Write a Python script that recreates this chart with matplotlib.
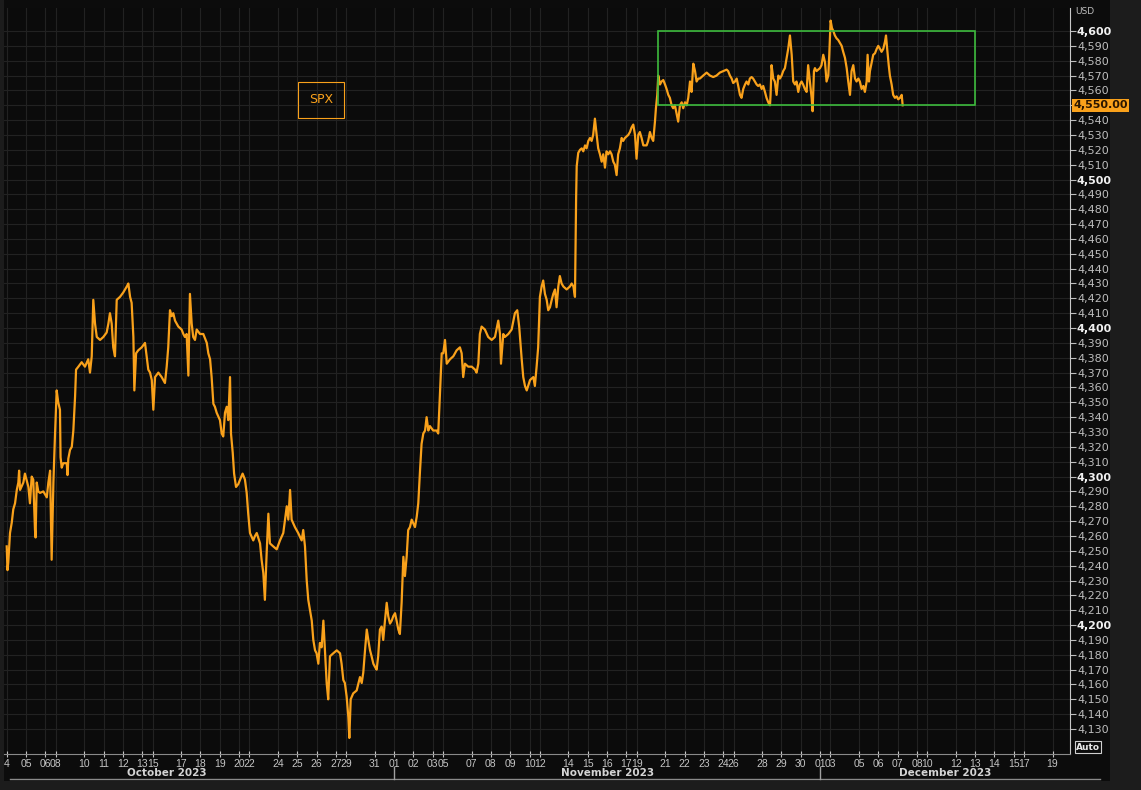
import numpy as np
import pandas as pd
import matplotlib
matplotlib.use("Agg")
import matplotlib.pyplot as plt
from matplotlib.patches import Rectangle
from matplotlib.lines import Line2D
from matplotlib.transforms import blended_transform_factory

plt.rcParams['font.family'] = ['DejaVu Sans']

# session time in trading days since 2023-10-04 (weekends removed)
t_days = [
    0.00, 0.04, 0.08, 0.17, 0.26, 0.34, 0.43, 0.52, 0.60, 0.64, 0.69, 0.86, 0.94, 1.12, 1.20, 1.29,
    1.37, 1.46, 1.49, 1.55, 1.63, 1.72, 1.89, 2.07, 2.15, 2.24, 2.32, 2.41, 2.49, 2.58, 2.66, 2.75,
    2.78, 2.84, 2.92, 3.10, 3.14, 3.18, 3.27, 3.36, 3.44, 3.53, 3.58, 3.70, 3.87, 4.04, 4.21, 4.30,
    4.39, 4.47, 4.56, 4.65, 4.82, 4.99, 5.16, 5.25, 5.33, 5.42, 5.50, 5.59, 5.68, 5.85, 6.02, 6.20,
    6.28, 6.37, 6.45, 6.54, 6.59, 6.68, 6.79, 6.97, 7.14, 7.31, 7.40,
    7.49, 7.57, 7.66, 7.83, 8.00, 8.17, 8.26, 8.34, 8.43, 8.52, 8.60, 8.69, 8.86, 9.03, 9.12, 9.20,
    9.29, 9.38, 9.46, 9.55, 9.63, 9.72, 9.81, 9.98, 10.15, 10.33, 10.41, 10.50, 10.58, 10.67, 10.75,
    10.84, 11.01, 11.10, 11.18, 11.27, 11.36, 11.44, 11.53, 11.58, 11.67, 11.74, 11.84, 11.96, 12.05,
    12.18, 12.30, 12.39, 12.47, 12.56, 12.73, 12.82, 12.91, 13.08, 13.16, 13.25, 13.33, 13.42, 13.51,
    13.59, 13.76, 13.94, 14.11, 14.28, 14.46, 14.54, 14.63, 14.71, 14.88, 15.05, 15.23, 15.31, 15.40,
    15.49, 15.57,
    15.66, 15.75, 15.83, 15.92, 16.00, 16.09, 16.17, 16.26, 16.35, 16.43, 16.52, 16.60, 16.69, 16.86,
    17.04, 17.21, 17.29, 17.38, 17.46, 17.55, 17.64, 17.69, 17.76, 17.89, 18.07, 18.24, 18.33, 18.41,
    18.50, 18.59, 18.67, 18.76, 18.84, 18.93, 19.01, 19.10, 19.18, 19.27, 19.36, 19.44, 19.53, 19.62,
    19.70, 19.79, 19.88, 19.96, 20.05, 20.13, 20.22, 20.30, 20.39, 20.48, 20.56, 20.65, 20.73, 20.82,
    20.91, 21.08, 21.17, 21.25, 21.34, 21.42, 21.51, 21.60, 21.68, 21.77,
    21.85, 22.02, 22.20, 22.28, 22.37, 22.46, 22.54, 22.63, 22.72, 22.89, 23.06, 23.23, 23.40, 23.49,
    23.57, 23.66, 23.83, 24.01, 24.18, 24.26, 24.35, 24.43, 24.52, 24.69, 24.86, 25.04, 25.21, 25.38,
    25.47, 25.52, 25.64, 25.72, 25.90, 26.07, 26.24, 26.36, 26.46, 26.59, 26.67, 26.76, 26.85, 27.02,
    27.19, 27.27, 27.36, 27.44, 27.53, 27.62, 27.70, 27.79, 27.88, 27.96, 28.05, 28.14, 28.22, 28.31,
    28.39, 28.48, 28.56, 28.65, 28.74, 28.91, 29.08, 29.17, 29.26, 29.34, 29.40, 29.43, 29.51, 29.60,
    29.69, 29.77, 29.86, 29.94, 30.03, 30.12, 30.20, 30.28, 30.37, 30.46, 30.54, 30.63, 30.72, 30.80,
    30.89, 30.97, 31.06, 31.15, 31.23, 31.32, 31.40, 31.49, 31.57, 31.66, 31.75, 31.83, 31.92, 32.09,
    32.18, 32.26, 32.35, 32.44, 32.52, 32.61, 32.69, 32.78, 32.87, 33.04, 33.12, 33.21, 33.30, 33.38,
    33.47, 33.52, 33.59, 33.64, 33.73, 33.81, 33.90, 33.99, 34.07, 34.16, 34.24, 34.33, 34.41, 34.50,
    34.59, 34.67, 34.76, 34.85, 34.93, 35.02, 35.11, 35.19, 35.28, 35.36, 35.45, 35.54, 35.62, 35.71,
    35.79, 35.96, 36.14, 36.31, 36.48, 36.65, 36.82, 37.00, 37.17, 37.25, 37.34, 37.43, 37.51, 37.60,
    37.69, 37.77, 37.86, 37.94, 38.03, 38.12, 38.20, 38.29, 38.37, 38.46, 38.54, 38.63, 38.72, 38.80,
    38.89, 38.98, 39.06, 39.15, 39.23, 39.32, 39.41, 39.44, 39.49, 39.58, 39.66, 39.75, 39.84, 39.92,
    40.01, 40.09, 40.18, 40.27, 40.35, 40.44, 40.53, 40.61, 40.70, 40.78, 40.87, 40.95, 41.04, 41.12,
    41.21, 41.30, 41.38, 41.47, 41.56, 41.61, 41.68, 41.73, 41.81, 41.90, 41.99, 42.07, 42.16, 42.25,
    42.33, 42.42, 42.47, 42.54, 42.61, 42.68, 42.76, 42.85, 42.93, 43.02, 43.11, 43.19, 43.28, 43.37,
    43.45, 43.54, 43.62, 43.71, 43.80, 43.88, 43.97, 44.05, 44.14, 44.23, 44.31, 44.40, 44.45, 44.52,
    44.57, 44.66, 44.74, 44.83, 44.92, 45.00, 45.09, 45.17, 45.26, 45.35, 45.40, 45.46, 45.54, 45.60,
    45.69, 45.77, 45.86, 45.95, 46.03, 46.12, 46.21, 46.26,
]

spx = [
    4253, 4237, 4242, 4262, 4269, 4278, 4282, 4291, 4296, 4304, 4291, 4296, 4302, 4293, 4282, 4300,
    4298, 4264, 4259, 4296, 4290, 4289, 4290, 4286, 4296, 4304, 4244, 4296, 4327, 4358, 4350, 4345,
    4313, 4306, 4309, 4309, 4301, 4312, 4318, 4320, 4331, 4354, 4372, 4374, 4377, 4374, 4379, 4370,
    4381, 4419, 4403, 4394, 4392, 4394, 4397, 4403, 4410, 4403, 4387, 4381, 4419, 4421, 4424, 4428,
    4430, 4421, 4417, 4394, 4358, 4383, 4385, 4387, 4390, 4372, 4370,
    4365, 4345, 4367, 4370, 4367, 4363, 4374, 4387, 4412, 4408, 4410, 4405, 4401, 4399, 4396, 4394,
    4396, 4368, 4423, 4403, 4394, 4392, 4399, 4396, 4396, 4390, 4383, 4379, 4367, 4349, 4347,
    4343, 4338, 4329, 4327, 4343, 4347, 4338, 4367, 4329, 4316, 4302, 4293, 4295, 4298,
    4302, 4298, 4289, 4275, 4262, 4257, 4260, 4262, 4255, 4244, 4235, 4217, 4248, 4275,
    4255, 4253, 4251, 4257, 4262, 4280, 4271, 4291, 4271, 4266, 4262, 4257, 4264, 4253,
    4230, 4217,
    4210, 4203, 4190, 4183, 4181, 4174, 4188, 4185, 4203, 4183, 4161, 4150, 4179, 4181,
    4183, 4181, 4174, 4163, 4161, 4152, 4138, 4124, 4150, 4154, 4156, 4165, 4161, 4168,
    4183, 4197, 4190, 4183, 4179, 4174, 4172, 4170, 4179, 4197, 4199, 4190, 4203, 4215,
    4206, 4201, 4203, 4206, 4208, 4203, 4197, 4194, 4215, 4246, 4233, 4246, 4264, 4266,
    4271, 4266, 4273, 4282, 4304, 4322, 4329, 4331, 4340, 4331,
    4334, 4331, 4331, 4329, 4356, 4383, 4383, 4392, 4376, 4379, 4381, 4385, 4387, 4383,
    4367, 4376, 4374, 4374, 4372, 4370, 4376, 4396, 4401, 4399, 4394, 4392, 4394, 4405,
    4396, 4376, 4396, 4394, 4396, 4399, 4410, 4412, 4401, 4379, 4367, 4361, 4358, 4365,
    4367, 4361, 4374, 4387, 4421, 4428, 4432, 4423, 4419, 4412, 4414, 4419, 4423, 4426,
    4414, 4428, 4435, 4430, 4428, 4426, 4428, 4430, 4428, 4421, 4488, 4509, 4518, 4520,
    4521, 4519, 4523, 4521, 4526, 4528, 4526, 4530, 4541, 4530, 4521, 4517, 4512, 4517,
    4508, 4519, 4517, 4519, 4517, 4512, 4510, 4503, 4517, 4521, 4528, 4526, 4528, 4530,
    4532, 4535, 4537, 4530, 4514, 4530, 4532, 4528, 4523, 4523, 4526, 4532, 4528, 4526,
    4539, 4548, 4557, 4570, 4564, 4566, 4567, 4564, 4561, 4557, 4555, 4550, 4548, 4550,
    4544, 4539, 4550, 4552, 4548, 4552, 4550, 4555, 4566, 4559, 4578, 4573, 4566, 4568,
    4568, 4570, 4572, 4570, 4569, 4570, 4572, 4573, 4574, 4573, 4570, 4568, 4565, 4566,
    4568, 4563, 4557, 4555, 4561, 4564, 4566, 4564, 4568, 4569, 4568, 4566, 4564, 4563,
    4564, 4561, 4563, 4559, 4555, 4552, 4550, 4557, 4577, 4568, 4566, 4557, 4570, 4568,
    4570, 4573, 4575, 4582, 4588, 4597, 4584, 4566, 4564, 4566, 4559, 4564, 4566, 4564,
    4561, 4559, 4577, 4566, 4555, 4546, 4573, 4575, 4573, 4574, 4575, 4577, 4584, 4579,
    4566, 4570, 4584, 4607, 4602, 4600, 4597, 4595, 4594, 4592, 4590, 4586, 4582, 4575,
    4566, 4557, 4573, 4577, 4568, 4566, 4568, 4566, 4561, 4563, 4559, 4566, 4584, 4566,
    4573, 4579, 4584, 4585, 4588, 4590, 4588, 4586, 4588, 4593, 4597, 4588, 4577, 4570,
    4564, 4557, 4555, 4556, 4554, 4555, 4557, 4550,
]

tick_dates = [
    '2023-10-04', '2023-10-05', '2023-10-06', '2023-10-08', '2023-10-10', '2023-10-11', '2023-10-12',
    '2023-10-13', '2023-10-15', '2023-10-17', '2023-10-18', '2023-10-19', '2023-10-20', '2023-10-22',
    '2023-10-24', '2023-10-25', '2023-10-26', '2023-10-27', '2023-10-29', '2023-10-31', '2023-11-01',
    '2023-11-02', '2023-11-03', '2023-11-05', '2023-11-07', '2023-11-08', '2023-11-09', '2023-11-10',
    '2023-11-12', '2023-11-14', '2023-11-15', '2023-11-16', '2023-11-17', '2023-11-19', '2023-11-21',
    '2023-11-22', '2023-11-23', '2023-11-24', '2023-11-26', '2023-11-28', '2023-11-29', '2023-11-30',
    '2023-12-01', '2023-12-03', '2023-12-05', '2023-12-06', '2023-12-07', '2023-12-08', '2023-12-10',
    '2023-12-12', '2023-12-13', '2023-12-14', '2023-12-15', '2023-12-17', '2023-12-19',
]
month_names = ['October 2023', 'November 2023', 'December 2023']
month_starts = ['2023-10-01', '2023-11-01', '2023-12-01']

range_low, range_high = 4550, 4600
range_start, range_end = '2023-11-20', '2023-12-13'
last_price = 4550.00

orange = '#f9a11b'
W, H = 1141, 790


def session_pos(d):
    # weekdays count as whole sessions; sunday evening opens half a day after friday
    d = pd.Timestamp(d)
    n = np.busday_count('2023-10-04', d.strftime('%Y-%m-%d'))
    if d.dayofweek == 6:
        return n - 0.47
    return float(n)


fig = plt.figure(figsize=(W / 100, H / 100), dpi=100, facecolor='#1c1c1c')
fig.patches.append(Rectangle((4 / W, 1 - 781 / H), 1106 / W, 781 / H,
                             transform=fig.transFigure, facecolor='#0c0c0c',
                             edgecolor='none', zorder=-5))

ax = fig.add_axes([4 / W, 1 - 754 / H, 1066 / W, 746 / H])
ax.set_facecolor('#0b0b0b')

xmin, xmax = -0.14, 54.9
ax.set_xlim(xmin, xmax)
ax.set_ylim(4113.2, 4615.5)

ax.plot(t_days, spx, color=orange, lw=1.6, zorder=3)

# consolidation range box
ax.add_patch(Rectangle((session_pos(range_start) + 0.64, range_low),
                       session_pos(range_end) - session_pos(range_start) - 0.64,
                       range_high - range_low, fill=False,
                       edgecolor='#3dbb3d', lw=1.2, zorder=4))

# y axis on the right
yt = np.arange(4130, 4601, 10)
ax.yaxis.tick_right()
ax.set_yticks(yt)
ax.set_yticklabels(['' if v == 4550 else f'{v:,}' for v in yt])
for v, lab in zip(yt, ax.get_yticklabels()):
    if v % 100 == 0:
        lab.set_fontweight('bold')
        lab.set_color('#f0f0f0')
    else:
        lab.set_color('#bdbdbd')
ax.tick_params(axis='y', labelsize=8, length=4, width=0.8, color='#bdbdbd', pad=1)

# x axis: session days
xt = [session_pos(d) for d in tick_dates]
xl = [pd.Timestamp(d).strftime('%d') for d in tick_dates]
xl[0] = '4'
ax.set_xticks(xt)
ax.set_xticklabels(xl, family=['DejaVu Sans Condensed', 'Liberation Sans Narrow', 'Liberation Sans'])
ax.tick_params(axis='x', labelsize=7.5, colors='#c4c4c4', length=5, width=0.8,
               direction='inout', pad=1)

ax.grid(True, color='#222222', lw=0.8, zorder=1)
ax.set_axisbelow(True)

for s in ['top', 'left']:
    ax.spines[s].set_visible(False)
ax.spines['right'].set_color('#c8c8c8')
ax.spines['bottom'].set_color('#8a8a8a')

# month band under the day labels
xf = blended_transform_factory(ax.transData, fig.transFigure)
fig.add_artist(Line2D([10 / W, 1100 / W], [1 - 779 / H, 1 - 779 / H],
                      transform=fig.transFigure, color='#8a8a8a', lw=1))
m_pos = [session_pos(d) for d in month_starts] + [xmax]
for i, name in enumerate(month_names):
    fig.text((m_pos[i] + m_pos[i + 1]) / 2, 1 - 773 / H, name, transform=xf,
             ha='center', va='center', fontsize=7.5, fontweight='bold', color='#d4d4d4')
for p in m_pos[1:3]:
    fig.add_artist(Line2D([p, p], [1 - 767 / H, 1 - 779 / H], transform=xf,
                          color='#a0a0a0', lw=1))

# last price tag
yb = blended_transform_factory(ax.transAxes, ax.transData)
ax.text(1.003, last_price, f'{last_price:,.2f}', transform=yb, ha='left', va='center',
        fontsize=8, fontweight='bold', color='#2a1600',
        bbox=dict(boxstyle='square,pad=0.15', facecolor=orange, edgecolor='none'))

# security label
ax.text(0.2974, 0.877, 'SPX', transform=ax.transAxes, ha='center', va='center',
        fontsize=9, color=orange,
        bbox=dict(boxstyle='square,pad=0.9', facecolor='none', edgecolor=orange, lw=0.8))

fig.text(1075 / W, 1 - 11 / H, 'USD', fontsize=6.5, color='#bdbdbd', ha='left', va='center')
fig.text(1088 / W, 1 - 747 / H, 'Auto', fontsize=6.5, fontweight='bold', color='#e8e8e8',
         ha='center', va='center',
         bbox=dict(boxstyle='square,pad=0.15', facecolor='#0c0c0c', edgecolor='#d0d0d0', lw=0.8))

fig.savefig('out.png', dpi=100, facecolor=fig.get_facecolor())
